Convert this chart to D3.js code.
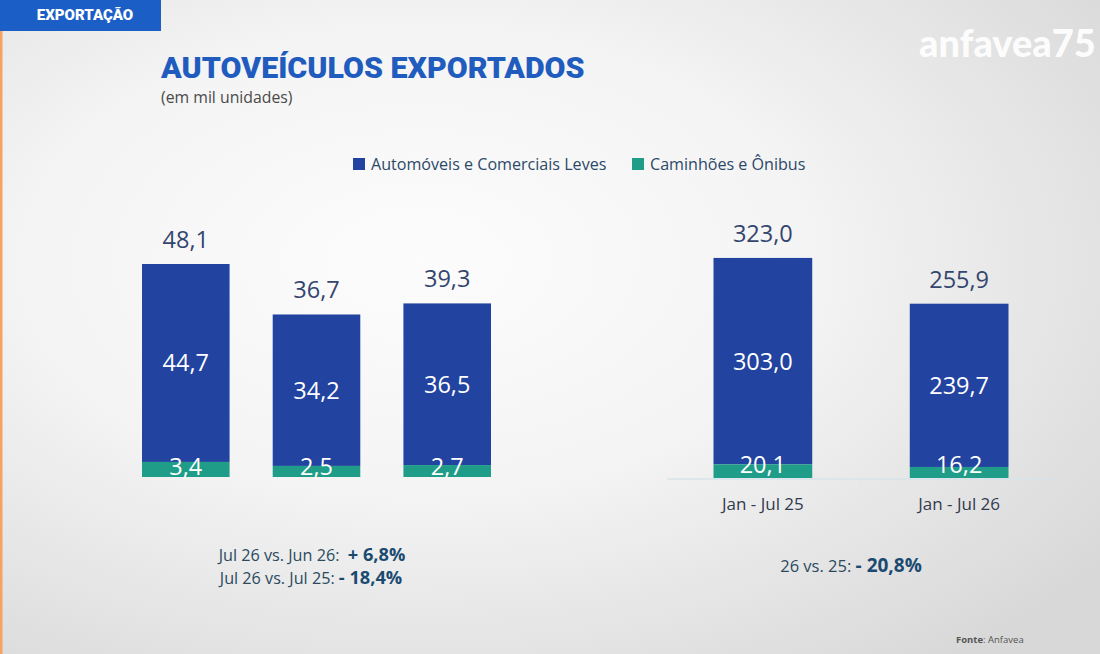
<!DOCTYPE html>
<html><head><meta charset="utf-8">
<script src="https://cdn.jsdelivr.net/npm/d3@7"></script>
<style>html,body{margin:0;padding:0;overflow:hidden;background:#eee}</style>
</head><body>
<script>
// ---- data ----
const monthCategories = ["Jul 25", "Jun 26", "Jul 26"];
const monthCars = [44.7, 34.2, 36.5];
const monthTrucks = [3.4, 2.5, 2.7];
const monthTotals = [48.1, 36.7, 39.3];

const periodCategories = ["Jan - Jul 25", "Jan - Jul 26"];
const periodCars = [303.0, 239.7];
const periodTrucks = [20.1, 16.2];
const periodTotals = [323.0, 255.9];

const seriesNames = ["Automóveis e Comerciais Leves", "Caminhões e Ônibus"];
const monthComparisons = [["Jul 26 vs. Jun 26:  ", "+ 6,8%"], ["Jul 26 vs. Jul 25: ", "- 18,4%"]];
const periodComparison = ["26 vs. 25: ", "- 20,8%"];

const W = 1100, H = 654;
const BLUE = "#2243a0", GREEN = "#1f9d88";
const fmt = v => d3.format(".1f")(v).replace(".", ",");

const svg = d3.select("body").append("svg").attr("width", W).attr("height", H);
const defs = svg.append("defs");
const rg = defs.append("radialGradient").attr("id", "bg").attr("cx", "38%").attr("cy", "40%").attr("r", "78%");
rg.append("stop").attr("offset", "0%").attr("stop-color", "#fcfcfc");
rg.append("stop").attr("offset", "45%").attr("stop-color", "#f4f4f4");
rg.append("stop").attr("offset", "100%").attr("stop-color", "#d8d8d8");
svg.append("rect").attr("width", W).attr("height", H).attr("fill", "url(#bg)");

// header tab
svg.append("rect").attr("x", 0).attr("y", 0).attr("width", 161).attr("height", 31).attr("fill", "#1b5fc6");
svg.append("text").attr("x", 85).attr("y", 20).attr("text-anchor", "middle")
  .attr("font-family", "Roboto").attr("font-weight", 900).attr("font-size", 15).attr("fill", "#fff").text("EXPORTAÇÃO");
svg.append("rect").attr("x", 0).attr("y", 31).attr("width", 2.5).attr("height", H - 31).attr("fill", "#f4a460");

// logo
svg.append("text").attr("x", 919).attr("y", 57).attr("font-family", "Lato").attr("font-weight", 900)
  .attr("font-size", 38).attr("letter-spacing", 0).attr("fill", "#ffffff").attr("opacity", 0.92).text("anfavea75");

// title
svg.append("text").attr("x", 161).attr("y", 78).attr("font-family", "Roboto").attr("font-weight", 900)
  .attr("font-size", 30.4).attr("fill", "#1f5cbe").text("AUTOVEÍCULOS EXPORTADOS");
svg.append("text").attr("x", 161).attr("y", 103).attr("font-family", "Open Sans")
  .attr("font-size", 15.8).attr("fill", "#4a4a4a").text("(em mil unidades)");

// legend
const color = d3.scaleOrdinal().domain(seriesNames).range([BLUE, GREEN]);
const legendX = [353, 632];
const lg = svg.append("g").selectAll("g").data(seriesNames).join("g")
  .attr("transform", (d, i) => `translate(${legendX[i]},164)`);
lg.append("rect").attr("x", 0).attr("y", -6).attr("width", 12).attr("height", 12).attr("fill", d => color(d));
lg.append("text").attr("x", 18).attr("y", 6).attr("font-family", "Open Sans").attr("font-size", 16.1)
  .attr("fill", "#2c4868").text(d => d);

function stackedChart(opts) {
  const { cats, cars, trucks, totals, x, y, fs } = opts;
  const g = svg.append("g");
  const rows = cats.map((c, i) => ({ c, cars: cars[i], trucks: trucks[i], total: totals[i] }));
  const bar = g.selectAll("g.bar").data(rows).join("g").attr("class", "bar");
  bar.append("rect").attr("x", d => x(d.c)).attr("width", x.bandwidth())
    .attr("y", d => y(d.trucks + d.cars)).attr("height", d => y(d.trucks) - y(d.trucks + d.cars)).attr("fill", BLUE);
  bar.append("rect").attr("x", d => x(d.c)).attr("width", x.bandwidth())
    .attr("y", d => y(d.trucks)).attr("height", d => y(0) - y(d.trucks)).attr("fill", GREEN);
  const cx = d => x(d.c) + x.bandwidth() / 2;
  bar.append("text").attr("x", cx).attr("y", d => y(d.total) - 16).attr("text-anchor", "middle")
    .attr("font-family", "Open Sans").attr("font-size", fs).attr("fill", "#34456f").text(d => fmt(d.total));
  bar.append("text").attr("x", cx).attr("y", d => (y(d.trucks) + y(d.trucks + d.cars)) / 2)
    .attr("dy", "0.36em").attr("text-anchor", "middle")
    .attr("font-family", "Open Sans").attr("font-size", fs).attr("fill", "#ffffff").text(d => fmt(d.cars));
  bar.append("text").attr("x", cx).attr("y", d => y(0) - opts.lowOff).attr("text-anchor", "middle")
    .attr("font-family", "Open Sans").attr("font-size", fs).attr("fill", "#ffffff").text(d => fmt(d.trucks));
  return g;
}

// left chart (monthly)
const xL = d3.scaleBand().domain(monthCategories).range([142, 491]).paddingInner(0.33).paddingOuter(0);
const yL = d3.scaleLinear().domain([0, 48.1]).range([477, 264]);
stackedChart({ cats: monthCategories, cars: monthCars, trucks: monthTrucks, totals: monthTotals, x: xL, y: yL, fs: 23.5, lowOff: 2 });

// right chart (cumulative)
const xR = d3.scaleBand().domain(periodCategories).range([667, 1055]).paddingInner(0.497).paddingOuter(0.237);
const yR = d3.scaleLinear().domain([0, 323.0]).range([478, 258]);
const axisR = svg.append("g").attr("transform", `translate(0,${yR(0) + 1})`);
axisR.append("line").attr("x1", xR.range()[0]).attr("x2", xR.range()[1]).attr("stroke", "#d6e3ea").attr("stroke-width", 1.5);
const midR = (xR(periodCategories[0]) + xR.bandwidth() + xR(periodCategories[1])) / 2;
axisR.append("line").attr("x1", midR).attr("x2", midR)
  .attr("y1", 0).attr("y2", 6).attr("stroke", "#dde6ec").attr("stroke-width", 1);
stackedChart({ cats: periodCategories, cars: periodCars, trucks: periodTrucks, totals: periodTotals, x: xR, y: yR, fs: 23.5, lowOff: 5 });
axisR.selectAll("text.tick").data(periodCategories).join("text").attr("class", "tick")
  .attr("x", d => xR(d) + xR.bandwidth() / 2).attr("y", 31).attr("text-anchor", "middle")
  .attr("font-family", "Open Sans").attr("font-size", 17).attr("fill", "#333a4e").text(d => d);

// comparisons
function comparison(x, yPos, parts, fs, fb) {
  const t = svg.append("text").attr("x", x).attr("y", yPos).attr("text-anchor", "middle")
    .attr("font-family", "Open Sans").attr("font-size", fs).attr("xml:space", "preserve");
  t.append("tspan").attr("fill", "#2b4a5e").text(parts[0]);
  t.append("tspan").attr("fill", "#1b4a70").attr("font-weight", 700).attr("font-size", fb).text(parts[1]);
}
comparison(312, 561, monthComparisons[0], 16.2, 18.2);
comparison(311, 584, monthComparisons[1], 16.2, 18.2);
comparison(851, 572, periodComparison, 16.5, 19);

// source
const src = svg.append("text").attr("x", 956).attr("y", 643).attr("font-family", "Open Sans").attr("font-size", 9.5).attr("fill", "#555");
src.append("tspan").attr("font-weight", 700).text("Fonte");
src.append("tspan").text(": Anfavea");
</script>
</body></html>
